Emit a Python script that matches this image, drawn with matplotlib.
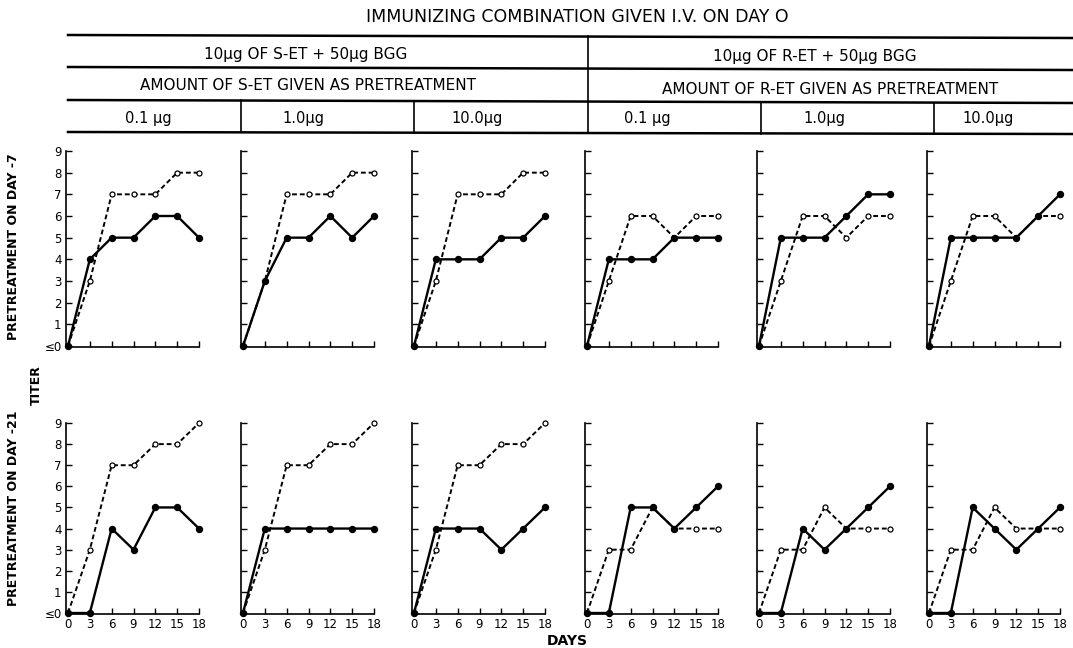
import matplotlib
matplotlib.use("Agg")
import matplotlib.pyplot as plt
from matplotlib.lines import Line2D

# days sampled after immunization
days = [0, 3, 6, 9, 12, 15, 18]

# pretreatment on day -7 : filled (solid) and open (dashed) series, one per panel
d7_solid = [
    [0, 4, 5, 5, 6, 6, 5],
    [0, 3, 5, 5, 6, 5, 6],
    [0, 4, 4, 4, 5, 5, 6],
    [0, 4, 4, 4, 5, 5, 5],
    [0, 5, 5, 5, 6, 7, 7],
    [0, 5, 5, 5, 5, 6, 7],
]
d7_open = [
    [0, 3, 7, 7, 7, 8, 8],
    [0, 3, 7, 7, 7, 8, 8],
    [0, 3, 7, 7, 7, 8, 8],
    [0, 3, 6, 6, 5, 6, 6],
    [0, 3, 6, 6, 5, 6, 6],
    [0, 3, 6, 6, 5, 6, 6],
]

# pretreatment on day -21
d21_solid = [
    [0, 0, 4, 3, 5, 5, 4],
    [0, 4, 4, 4, 4, 4, 4],
    [0, 4, 4, 4, 3, 4, 5],
    [0, 0, 5, 5, 4, 5, 6],
    [0, 0, 4, 3, 4, 5, 6],
    [0, 0, 5, 4, 3, 4, 5],
]
d21_open = [
    [0, 3, 7, 7, 8, 8, 9],
    [0, 3, 7, 7, 8, 8, 9],
    [0, 3, 7, 7, 8, 8, 9],
    [0, 3, 3, 5, 4, 4, 4],
    [0, 3, 3, 5, 4, 4, 4],
    [0, 3, 3, 5, 4, 4, 4],
]

yticks = list(range(10))
ytick_labels = ["≤0"] + [str(v) for v in range(1, 10)]
xtick_labels = [str(d) for d in days]

title = "IMMUNIZING COMBINATION GIVEN I.V. ON DAY O"
groups = ["10μg OF S-ET + 50μg BGG", "10μg OF R-ET + 50μg BGG"]
subgroups = ["AMOUNT OF S-ET GIVEN AS PRETREATMENT",
             "AMOUNT OF R-ET GIVEN AS PRETREATMENT"]
doses = ["0.1 μg", "1.0μg", "10.0μg", "0.1 μg", "1.0μg", "10.0μg"]
row_labels = ["PRETREATMENT ON DAY -7", "PRETREATMENT ON DAY -21"]

W, H = 1073, 648
fig = plt.figure(figsize=(W / 100, H / 100), dpi=100)


def rect(x0, y0, x1, y1):
    return [x0 / W, 1 - y1 / H, (x1 - x0) / W, (y1 - y0) / H]


# pixel positions of x=0 for each panel column, and y of 9 / 0 for each row
col_x0 = [68, 243, 414, 587, 759, 929]
col_w = 131
rows_y = [(151, 346), (423, 613)]
xpad, ypad_top, ypad_bot = 0.3, 0.1, 0.06

txt_font = ["DejaVu Sans"]

for r, (solid_set, open_set) in enumerate([(d7_solid, d7_open), (d21_solid, d21_open)]):
    y9, y0 = rows_y[r]
    unit = (y0 - y9) / 9
    for c in range(6):
        px = col_w / 18
        ax = fig.add_axes(rect(col_x0[c] - xpad * px, y9 - ypad_top * unit,
                               col_x0[c] + col_w + xpad * px, y0 + ypad_bot * unit))
        ax.plot(days, open_set[c], color="black", lw=1.4, ls=(0, (2.5, 1.5)),
                marker="o", ms=3.6, mfc="white", mec="black", mew=0.9, clip_on=False)
        ax.plot(days, solid_set[c], color="black", lw=1.7, ls="-",
                marker="o", ms=4.3, mfc="black", mec="black", clip_on=False)
        ax.set_xlim(-xpad, 18 + xpad)
        ax.set_ylim(-ypad_bot, 9 + ypad_top)
        for s in ["top", "right"]:
            ax.spines[s].set_visible(False)
        ax.spines["left"].set_linewidth(1.2)
        ax.spines["bottom"].set_linewidth(1.2)
        ax.spines["left"].set_bounds(0 - ypad_bot, 9)
        ax.spines["bottom"].set_bounds(0 - xpad, 18)
        ax.set_xticks(days)
        ax.set_yticks(yticks)
        ax.tick_params(direction="in", length=4, width=1, pad=3, labelsize=8.5)
        if c == 0:
            ax.set_yticklabels(ytick_labels)
        else:
            ax.set_yticklabels([])
        if r == 1:
            ax.set_xticklabels(xtick_labels)
        else:
            ax.set_xticklabels([])
        ax.patch.set_alpha(0)

# overlay for header table and outer labels, in pixel coordinates
ov = fig.add_axes([0, 0, 1, 1], zorder=-1)
ov.set_xlim(0, W)
ov.set_ylim(H, 0)
ov.axis("off")

ov.text(577, 17, title, ha="center", va="center", fontsize=12.5, family=txt_font)

# table rules (the scanned original is slightly tilted)
for yl, yr in [(35, 38), (67, 70), (100, 103), (132, 134)]:
    ov.add_line(Line2D([68, 1073], [yl, yr], color="black", lw=1.8))
ov.add_line(Line2D([588, 588], [36, 133], color="black", lw=1.2))
for x, yt, yb in [(241, 100, 132), (414, 101, 133), (761, 102, 134), (934, 103, 134)]:
    ov.add_line(Line2D([x, x], [yt, yb], color="black", lw=1.2))

ov.text(306, 54, groups[0], ha="center", va="center", fontsize=11, family=txt_font)
ov.text(815, 57, groups[1], ha="center", va="center", fontsize=11, family=txt_font)
ov.text(308, 86, subgroups[0], ha="center", va="center", fontsize=11, family=txt_font)
ov.text(830, 89, subgroups[1], ha="center", va="center", fontsize=11, family=txt_font)

dose_x = [148, 303, 477, 647, 824, 988]
for x, lab in zip(dose_x, doses):
    ov.text(x, 118, lab, ha="center", va="center", fontsize=10.5, family=txt_font)

ov.text(14, 247, row_labels[0], ha="center", va="center", rotation=90,
        fontsize=9, fontweight="bold", family=txt_font)
ov.text(14, 508, row_labels[1], ha="center", va="center", rotation=90,
        fontsize=9, fontweight="bold", family=txt_font)
ov.text(36, 385, "TITER", ha="center", va="center", rotation=90,
        fontsize=9, fontweight="bold", family=txt_font)
ov.text(567, 641, "DAYS", ha="center", va="center",
        fontsize=10, fontweight="bold", family=txt_font)

fig.savefig("out.png", dpi=100)
